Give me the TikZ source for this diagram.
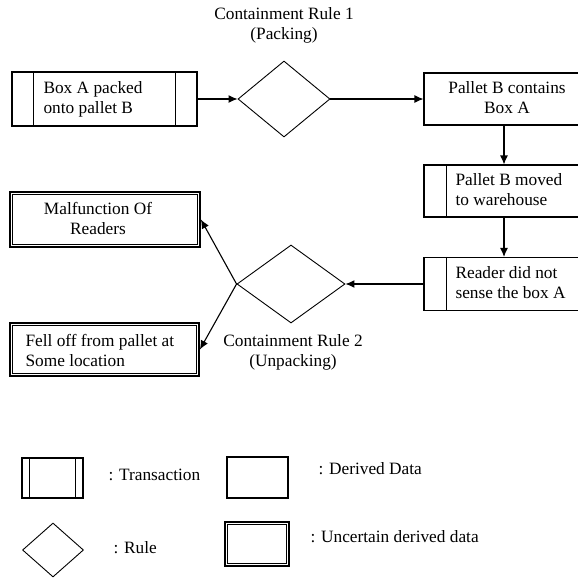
\documentclass[tikz,border=0pt]{standalone}
\usepackage{fontspec}
\setmainfont{Liberation Serif}
\usetikzlibrary{shapes.geometric,arrows.meta}
\begin{document}
\begin{tikzpicture}[x=1pt,y=-1pt,
  font=\fontsize{17.3}{20}\selectfont,
  line width=1.1pt,
  box/.style={draw, rectangle, inner sep=0pt},
  rulediamond/.style={draw, diamond, inner sep=0pt, line width=0.9pt},
  txt/.style={inner sep=0pt, align=left},
  ctxt/.style={inner sep=0pt, align=center},
  uncertain/.style={box, line width=1.8pt},
  arr/.style={-{Latex[length=9pt,width=8pt]}, line width=1.1pt}
]
\clip (0,0) rectangle (578,579);
\fill[white] (0,0) rectangle (578,579);

% --- main nodes ---
\node[box, minimum width=185pt, minimum height=54pt] (a) at (104.5,99) {};
\draw ([xshift=22pt]a.north west) -- ([xshift=22pt]a.south west);
\draw ([xshift=-22pt]a.north east) -- ([xshift=-22pt]a.south east);
\node[txt, anchor=west] (at) at (43,99) {Box A packed\\onto pallet B};

\node[rulediamond, minimum width=92pt, minimum height=76pt] (d1) at (284,99) {};
\node[ctxt] (d1l) at (284,25) {Containment Rule 1\\(Packing)};

\node[box, minimum width=166pt, minimum height=52pt] (b1) at (507,99) {};
\node[ctxt] (b1t) at (507,98) {Pallet B contains\\Box A};

\node[box, minimum width=166pt, minimum height=52pt] (b2) at (507,191) {};
\draw ([xshift=23pt]b2.north west) -- ([xshift=23pt]b2.south west);
\node[txt, anchor=west] (b2t) at (455,190) {Pallet B moved\\to warehouse};

\node[box, minimum width=166pt, minimum height=53pt] (b3) at (507,284) {};
\draw ([xshift=23pt]b3.north west) -- ([xshift=23pt]b3.south west);
\node[txt, anchor=west] (b3t) at (455,283) {Reader did not\\sense the box A};

\node[rulediamond, minimum width=108pt, minimum height=78pt] (d2) at (291,284) {};
\node[ctxt] (d2l) at (293,352) {Containment Rule 2\\(Unpacking)};

\node[uncertain, minimum width=190pt, minimum height=55pt] (m) at (105,219.5) {};
\draw[line width=0.8pt] ([shift={(3.5,3.5)}]m.north west) rectangle ([shift={(-3.5,-3.5)}]m.south east);
\node[ctxt] (mt) at (98,218) {Malfunction Of\\Readers};

\node[uncertain, minimum width=189pt, minimum height=53pt] (f) at (104.5,349.5) {};
\draw[line width=0.8pt] ([shift={(3.5,3.5)}]f.north west) rectangle ([shift={(-3.5,-3.5)}]f.south east);
\node[txt, anchor=west] (ft) at (25,350) {Fell off from pallet at\\Some location};

% --- connectors ---
\coordinate (ax) at (504,0);
\draw[arr] (a.east) -- (d1.west);
\draw[arr] (d1.east) -- (b1.west);
\draw[arr] (b1.south -| ax) -- (b2.north -| ax);
\draw[arr] (b2.south -| ax) -- (b3.north -| ax);
\draw[arr] (b3.west) -- (d2.east);
\draw[arr] (d2.west) -- (m.east);
\draw[arr] (d2.west) -- (f.east);

% --- legend ---
\node[box, minimum width=61pt, minimum height=40pt] (lt) at (52.5,478) {};
\draw ([xshift=8pt]lt.north west) -- ([xshift=8pt]lt.south west);
\draw ([xshift=-8pt]lt.north east) -- ([xshift=-8pt]lt.south east);
\node[txt, anchor=west] (ltt) at (108,475) {: Transaction};

\node[box, minimum width=61pt, minimum height=41pt] (ld) at (257.5,477.5) {};
\node[txt, anchor=west] (ldt) at (318,469) {: Derived Data};

\node[rulediamond, minimum width=61pt, minimum height=54pt] (lr) at (53,550) {};
\node[txt, anchor=west] (lrt) at (113,548) {: Rule};

\node[uncertain, minimum width=64pt, minimum height=44pt] (lu) at (257,544) {};
\draw[line width=0.8pt] ([shift={(3.5,3.5)}]lu.north west) rectangle ([shift={(-3.5,-3.5)}]lu.south east);
\node[txt, anchor=west] (lut) at (310,537) {: Uncertain derived data};
\end{tikzpicture}
\end{document}
